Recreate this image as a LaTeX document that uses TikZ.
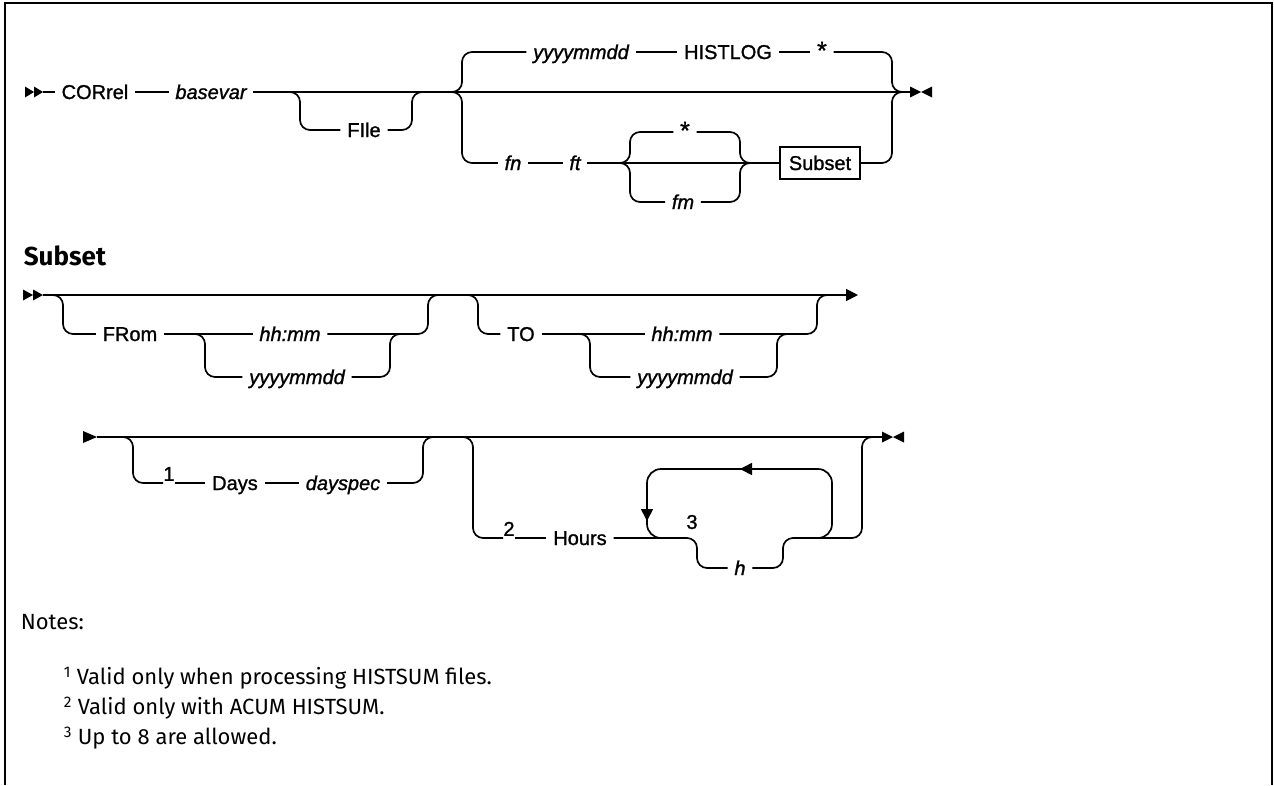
\documentclass[tikz,border=0pt]{standalone}
\usepackage{fontspec}
\setmainfont{Liberation Sans}[FakeBold=1.2]
\newfontfamily\notefont{Fira Sans}
\usetikzlibrary{arrows.meta,positioning}

\begin{document}
\begin{tikzpicture}[x=1pt, y=-1pt, line width=1.7pt,
    every node/.style={font=\fontsize{20}{24}\selectfont, inner sep=0pt},
    kw/.style={inner xsep=6pt, text height=14pt, text depth=0pt},
    var/.style={kw, font=\fontsize{20}{24}\selectfont\itshape},
    starkw/.style={kw, font=\fontsize{25}{28}\selectfont},
    subbox/.style={kw, draw, inner xsep=9pt, minimum height=32pt},
    refno/.style={font=\fontsize{20}{22}\selectfont},
    gap/.style={minimum width=10pt, label distance=6pt},
    head/.style={font=\notefont\fontsize{26}{30}\selectfont\bfseries},
    note/.style={font=\notefont\fontsize{22}{26}\selectfont},
    br/.style={rounded corners=10pt},
    loopbr/.style={rounded corners=14pt},
    tip/.style={-{Triangle[length=12pt, width=12pt]}}]

  \useasboundingbox (0,0) rectangle (1274,785);
  % frame, open at the bottom
  \draw[line width=2pt] (5,785) -- (5,3) -- (1272,3) -- (1272,785);

  %% CORrel command
  \coordinate (s1) at (43,92);
  \coordinate (e1) at (910,92);
  \fill (s1) ++(-18,-5.5) -- ++(9,5.5) -- ++(-9,5.5) -- cycle;
  \fill (s1) ++(-9,-5.5) -- ++(9,5.5) -- ++(-9,5.5) -- cycle;
  \fill (e1) ++(0,-5.5) -- ++(11,5.5) -- ++(-11,5.5) -- cycle;
  \fill (e1) ++(22,-5.5) -- ++(-11,5.5) -- ++(11,5.5) -- cycle;

  \node[kw] (corr) at (95,92) {CORrel};
  \node[var] (bvar) at (211,92) {basevar};
  \node[kw] (file) at (364,130) {FIle};
  \node[var] (ymd1) at (581,52) {yyyymmdd};
  \node[kw] (hist) at (728,52) {HISTLOG};
  \node[starkw] (star1) at (822,52) {*};
  \node[var] (fn) at (513,163) {fn};
  \node[var] (ft) at (575,163) {ft};
  \node[starkw] (star2) at (685,132) {*};
  \node[var] (fm) at (683,202) {fm};
  \node[subbox] (sub) at (820,163) {Subset};

  \coordinate (j1a) at (288,92);
  \coordinate (j1b) at (424,92);
  \coordinate (j2a) at (450,92);
  \coordinate (j2b) at (904,92);
  \coordinate (j3a) at (618,163);
  \coordinate (j3b) at (752,163);

  \draw (s1) -- (corr.west);
  \draw (corr.east) -- (bvar.west);
  \draw (bvar.east) -- (e1);
  \draw[br] (j1a) -| (300,130) -- (file.west);
  \draw[br] (file.east) -| (412,92) -- (j1b);
  % upper choice
  \draw[br] (j2a) -| (462,52) -- (ymd1.west);
  \draw (ymd1.east) -- (hist.west);
  \draw (hist.east) -- (star1.west);
  \draw[br] (star1.east) -| (892,92) -- (j2b);
  % lower choice
  \draw[br] (j2a) -| (462,163) -- (fn.west);
  \draw (fn.east) -- (ft.west);
  \draw (ft.east) -- (sub.west);
  \draw[br] (sub.east) -| (892,92) -- (j2b);
  \draw[br] (j3a) -| (630,132) -- (star2.west);
  \draw[br] (star2.east) -| (740,163) -- (j3b);
  \draw[br] (j3a) -| (630,202) -- (fm.west);
  \draw[br] (fm.east) -| (740,163) -- (j3b);

  %% Subset fragment
  \node[head, anchor=west] (subh) at (23,256) {Subset};

  \coordinate (s2) at (43,295);
  \coordinate (e2) at (858,295);
  \fill (s2) ++(-20,-5.5) -- ++(10,5.5) -- ++(-10,5.5) -- cycle;
  \fill (s2) ++(-10,-5.5) -- ++(10,5.5) -- ++(-10,5.5) -- cycle;
  \draw[tip] (s2) -- (e2);

  \node[kw] (from) at (130,334) {FRom};
  \node[var] (hhmm1) at (290,334) {hh:mm};
  \node[var] (ymd2) at (297,377) {yyyymmdd};
  \node[kw] (to) at (521,334) {TO};
  \node[var] (hhmm2) at (682,334) {hh:mm};
  \node[var] (ymd3) at (685,377) {yyyymmdd};

  \coordinate (j4a) at (51,295);
  \coordinate (j4b) at (440,295);
  \coordinate (j5a) at (193,334);
  \coordinate (j5b) at (402,334);
  \coordinate (j6a) at (466,295);
  \coordinate (j6b) at (829,295);
  \coordinate (j7a) at (578,334);
  \coordinate (j7b) at (789,334);

  \draw[br] (j4a) -| (63,334) -- (from.west);
  \draw (from.east) -- (hhmm1.west);
  \draw[br] (hhmm1.east) -| (428,295) -- (j4b);
  \draw[br] (j5a) -| (205,377) -- (ymd2.west);
  \draw[br] (ymd2.east) -| (390,334) -- (j5b);
  \draw[br] (j6a) -| (478,334) -- (to.west);
  \draw (to.east) -- (hhmm2.west);
  \draw[br] (hhmm2.east) -| (817,295) -- (j6b);
  \draw[br] (j7a) -| (590,377) -- (ymd3.west);
  \draw[br] (ymd3.east) -| (777,334) -- (j7b);

  %% Days / Hours
  \coordinate (s3) at (97,437);
  \coordinate (e3) at (882,437);
  \fill (s3) ++(-14,-6) -- ++(14,6) -- ++(-14,6) -- cycle;
  \fill (e3) ++(0,-5.5) -- ++(11,5.5) -- ++(-11,5.5) -- cycle;
  \fill (e3) ++(22,-5.5) -- ++(-11,5.5) -- ++(11,5.5) -- cycle;
  \draw (s3) -- (e3);

  \node[gap, label={[refno]above:1}] (n1) at (169,483) {};
  \node[kw] (days) at (235,483) {Days};
  \node[var] (dspec) at (343,483) {dayspec};
  \node[gap, label={[refno]above:2}] (n2) at (509,538) {};
  \node[kw] (hours) at (580,538) {Hours};
  \node[var] (h) at (740,568) {h};
  \node[refno] (r3) at (692,522) {3};

  \coordinate (j8a) at (121,437);
  \coordinate (j8b) at (435,437);
  \coordinate (j9a) at (461,437);
  \coordinate (j9b) at (874,437);
  \coordinate (lp1) at (815,538);
  \coordinate (lp2) at (665,538);

  \draw[br] (j8a) -| (133,483) -- (n1.west);
  \draw (n1.east) -- (days.west);
  \draw (days.east) -- (dspec.west);
  \draw[br] (dspec.east) -| (423,437) -- (j8b);
  \draw[br] (j9a) -| (473,538) -- (n2.west);
  \draw (n2.east) -- (hours.west);
  \draw[br] (hours.east) -| (697,568) -- (h.west);
  \draw[br] (h.east) -| (783,538) -| (862,437) -- (j9b);
  % repeat loop
  \draw[loopbr, tip] (lp1) -| (832,469) -- (740,469);
  \draw[loopbr, tip] (746,469) -| (647,521);
  \draw[loopbr] (647,512) |- (lp2);

  %% notes
  \node[note, anchor=west] (notes) at (20,622) {Notes:};
  \node[note, anchor=west] (nt1) at (63,678) {\textsuperscript{1} Valid only when processing HISTSUM files.};
  \node[note, anchor=west] (nt2) at (63,708) {\textsuperscript{2} Valid only with ACUM HISTSUM.};
  \node[note, anchor=west] (nt3) at (63,738) {\textsuperscript{3} Up to 8 are allowed.};
\end{tikzpicture}
\end{document}
